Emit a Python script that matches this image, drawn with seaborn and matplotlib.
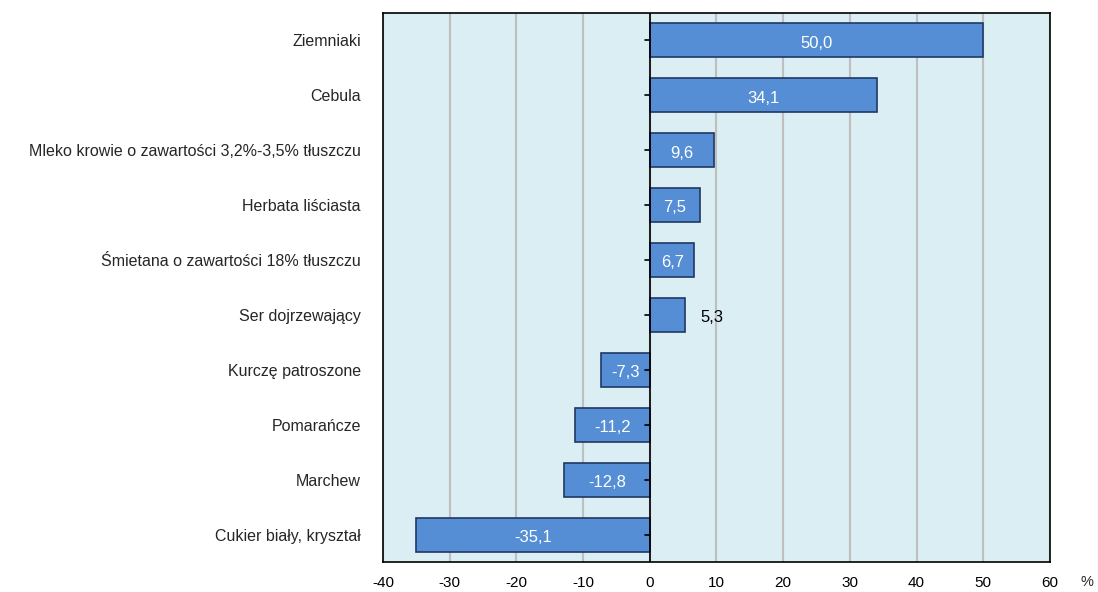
import pandas as pd
import matplotlib.pyplot as plt
import seaborn as sns

products = ["Ziemniaki", "Cebula", "Mleko krowie o zawartości 3,2%-3,5% tłuszczu",
            "Herbata liściasta", "Śmietana o zawartości 18% tłuszczu", "Ser dojrzewający",
            "Kurczę patroszone", "Pomarańcze", "Marchew", "Cukier biały, kryształ"]
change = [50.0, 34.1, 9.6, 7.5, 6.7, 5.3, -7.3, -11.2, -12.8, -35.1]
xticks = [-40, -30, -20, -10, 0, 10, 20, 30, 40, 50, 60]

df = pd.DataFrame({"product": products, "change": change})

sns.set_style("white")
plt.rcParams["font.family"] = ["Liberation Sans", "DejaVu Sans"]
plt.rcParams["font.size"] = 10

fig = plt.figure(figsize=(10.98, 5.92), dpi=100)
ax = fig.add_axes([0.3488, 0.0507, 0.6075, 0.9273])
ax.set_facecolor("#DBEEF4")

sns.barplot(data=df, x="change", y="product", orient="h", color="#558ED5",
            saturation=1, edgecolor="#1F3864", linewidth=1.2, width=0.62, ax=ax, zorder=3)

ax.set_xlim(-40, 60)
ax.set_ylim(len(products) - 0.5, -0.5)
ax.set_xticks(xticks)
ax.set_xticklabels([str(t) for t in xticks], fontsize=11)
ax.set_yticks(range(len(products)))
ax.set_yticklabels(products, fontsize=11.5)
ax.xaxis.grid(True, color="#BFBFBF", linewidth=1.5, zorder=0)
ax.set_axisbelow(True)
ax.axvline(0, color="black", linewidth=1.2, zorder=4)

ax.set_xlabel("")
ax.set_ylabel("")
ax.tick_params(axis="x", direction="out", length=5, width=1, colors="black", pad=5)
ax.tick_params(axis="y", length=0, pad=16)
for s in ax.spines.values():
    s.set_color("black")
    s.set_linewidth(1.2)

# small ticks on the zero line, pointing left
for i in range(len(products)):
    ax.plot([-0.7, 0], [i, i], color="black", linewidth=1.2, zorder=5)

for i, v in enumerate(change):
    lab = f"{v:.1f}".replace(".", ",")
    if abs(v) < 6:
        ax.text(v + 2.3, i + 0.05, lab, ha="left", va="center", color="black", fontsize=12, zorder=6)
    else:
        ax.text(v / 2, i + 0.05, lab, ha="center", va="center", color="white", fontsize=12, zorder=6)

fig.text(0.99, 0.017, "%", ha="center", va="center", fontsize=10.5)

fig.savefig("out.png", dpi=100)
